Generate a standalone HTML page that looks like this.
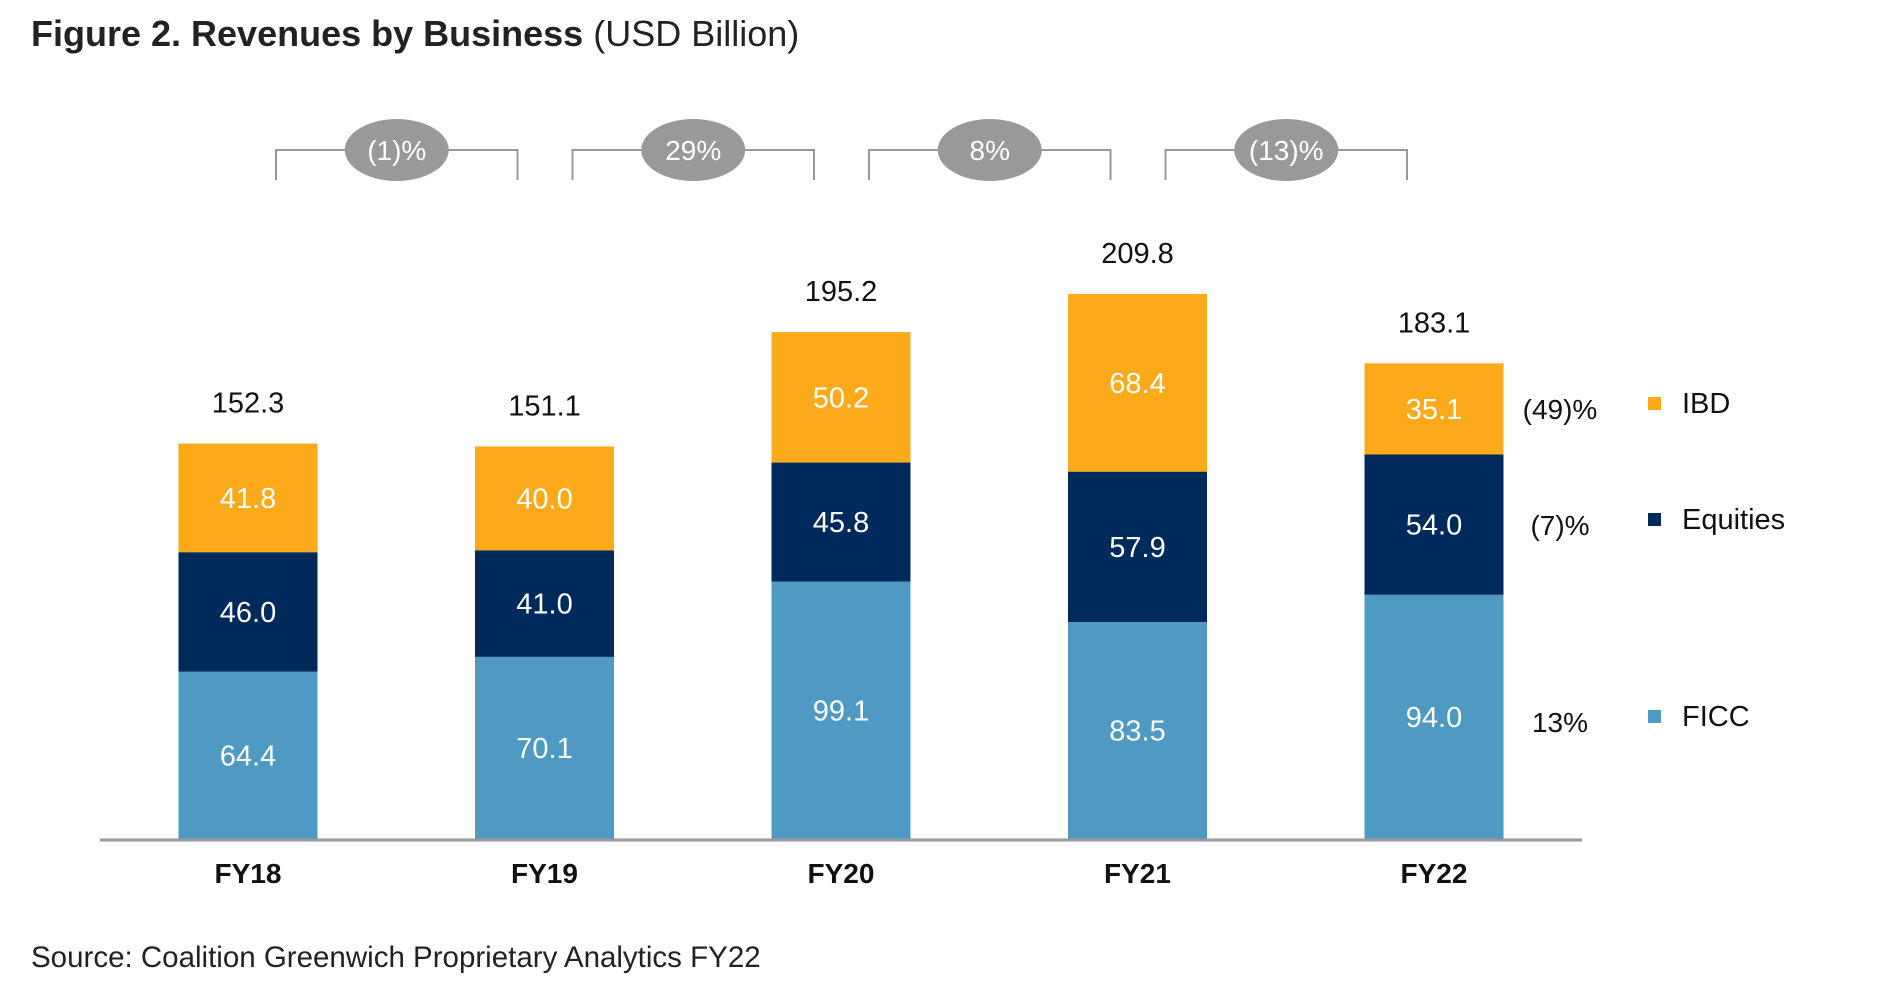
<!DOCTYPE html>
<html><head><meta charset="utf-8"><style>
body{margin:0;background:#fff;}
svg{display:block;font-family:"Liberation Sans",sans-serif;}
</style></head><body>
<svg id="chart" width="1881" height="991">
<text x="31" y="46" font-size="36" fill="#222"><tspan font-weight="bold">Figure 2. Revenues by Business</tspan> (USD Billion)</text>
<g id="plot"></g>
<text x="31" y="967" font-size="29.5" fill="#222">Source: Coalition Greenwich Proprietary Analytics FY22</text>
</svg>
<script>
const categories=["FY18","FY19","FY20","FY21","FY22"];
const ficc=[64.4,70.1,99.1,83.5,94.0];
const equities=[46.0,41.0,45.8,57.9,54.0];
const ibd=[41.8,40.0,50.2,68.4,35.1];
const totals=[152.3,151.1,195.2,209.8,183.1];
const growth=["(1)%","29%","8%","(13)%"];
const segGrowth=["13%","(7)%","(49)%"];
const seriesNames=["FICC","Equities","IBD"];
const colors=["#4F9AC2","#002A5C","#FDAA1A"];
const NS="http://www.w3.org/2000/svg";
const g=document.getElementById('plot');
const base=839, k=2.598, x0=248, step=296.5, bw=139;
const xc=i=>x0+i*step;
const yv=v=>base-v*k;
function mk(t,a){const e=document.createElementNS(NS,t);for(const n in a)e.setAttribute(n,a[n]);g.appendChild(e);return e;}
const series=[ficc,equities,ibd];
categories.forEach((c,i)=>{
  let cum=0;
  series.forEach((s,j)=>{
    const r=mk('rect',{x:xc(i)-bw/2,y:yv(cum+s[i]),width:bw,height:s[i]*k,fill:colors[j]});
    
    
    const t=mk('text',{x:xc(i),y:yv(cum+s[i]/2)+10,'font-size':29,fill:'#fff','text-anchor':'middle'});
    t.textContent=s[i].toFixed(1);
    
    
    cum+=s[i];
  });
  const tt=mk('text',{x:xc(i),y:yv(totals[i])-31,'font-size':29,fill:'#111','text-anchor':'middle'});
  tt.textContent=totals[i].toFixed(1);
  
  
  const cl=mk('text',{x:xc(i),y:893-10,'font-size':28,'font-weight':'bold',fill:'#111','text-anchor':'middle'});
  cl.textContent=c;
  
  
});
const ax=mk('line',{x1:100,x2:1582,y1:base+1,y2:base+1,stroke:'#999','stroke-width':3});


growth.forEach((gr,i)=>{
  const a=xc(i)+28,b=xc(i+1)-27,m=(a+b)/2;
  const p=mk('path',{d:`M${a},180V150H${b}V180`,fill:'none',stroke:'#999','stroke-width':2});
  
  
  const o=mk('ellipse',{cx:m,cy:150,rx:52,ry:31,fill:'#999'});
  
  
  const t=mk('text',{x:m,y:160,'font-size':28,fill:'#fff','text-anchor':'middle'});
  t.textContent=gr;
  
  
});
const ly=[716,519,403];
seriesNames.forEach((n,j)=>{
  const pt=mk('text',{x:1560,y:ly[j]+16,'font-size':28,fill:'#111','text-anchor':'middle'});
  pt.textContent=segGrowth[j];
  
  
  const sq=mk('rect',{x:1666-18,y:ly[j]-6,width:13,height:13,fill:colors[j]});
  
  
  const lt=mk('text',{x:1682,y:ly[j]+10,'font-size':29,fill:'#111'});
  lt.textContent=n;
  
  
});
</script>
</body></html>
